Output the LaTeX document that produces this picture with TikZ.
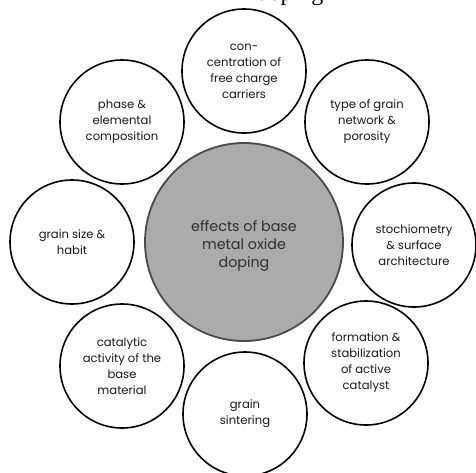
\documentclass[tikz,border=0pt]{standalone}
\usepackage{fontspec}
\setmainfont{Poppins}
\newfontfamily\titlefont{Liberation Serif}
\definecolor{hubfill}{HTML}{ABABAB}
\definecolor{hubline}{HTML}{4A4A4A}
\definecolor{hubtext}{HTML}{303030}
\tikzset{
  sat/.style={circle, draw=black, line width=1.6pt, fill=white, minimum size=124pt, inner sep=0pt,
    align=center, font=\fontsize{11.6}{16}\selectfont, text=black!90},
  hub/.style={circle, draw=hubline, line width=1.8pt, fill=hubfill, minimum size=198pt, inner sep=0pt},
  hubtext/.style={align=center, font=\fontsize{14.3}{18}\selectfont, text=hubtext, inner sep=0pt}
}
\begin{document}
\begin{tikzpicture}[x=1pt,y=-1pt]
\useasboundingbox (0,0) rectangle (476,472);
\begin{scope}
\clip (0,0) rectangle (476,472);
\node[anchor=base west, font=\titlefont\fontsize{24}{24}\selectfont, inner sep=0pt] (title) at (256.5,0.5) {doping};
\end{scope}
\node[hub] (hub) at (244,242) {};
\node[hubtext] (hublabel) at (244,246) {effects of base\\metal oxide\\doping};
\node[sat] (top) at (244,71) {con-\\centration of\\free charge\\carriers};
\node[sat] (ne) at (367,122) {type of grain\\network \&\\porosity};
\node[sat] (e) at (414,245) {stochiometry\\\& surface\\architecture};
\node[sat] (se) at (366,363) {formation \&\\stabilization\\of active\\catalyst};
\node[sat] (s) at (245,414) {grain\\sintering};
\node[sat] (sw) at (122,366) {catalytic\\activity of the\\base\\material};
\node[sat] (w) at (72,242) {grain size \&\\habit};
\node[sat] (nw) at (122,122) {phase \&\\elemental\\composition};
\end{tikzpicture}
\end{document}
